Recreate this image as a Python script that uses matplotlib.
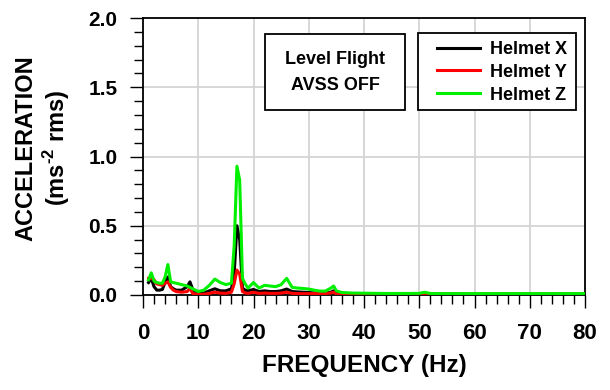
import matplotlib
matplotlib.use('Agg')
import matplotlib.pyplot as plt
from matplotlib.ticker import MultipleLocator
from matplotlib.patches import Rectangle

plt.rcParams['font.family'] = ['Liberation Sans', 'DejaVu Sans']
plt.rcParams['font.weight'] = 'bold'
plt.rcParams['mathtext.fontset'] = 'custom'
plt.rcParams['mathtext.rm'] = 'Liberation Sans:bold'
plt.rcParams['mathtext.bf'] = 'Liberation Sans:bold'

# 频率 (Hz)
freq = [1, 1.5, 2, 2.5, 3, 3.5, 4, 4.5, 5, 5.5, 6, 7, 8, 8.5, 9, 10, 11, 12, 13, 14,
        15, 16, 16.5, 17, 17.5, 18, 18.5, 19, 20, 21, 22, 23, 24, 25, 26, 27, 28, 29,
        30, 31, 32, 33, 34, 34.5, 35, 36, 38, 40, 42, 44, 46, 48, 50, 51, 52, 54, 56,
        58, 60, 62, 64, 66, 68, 70, 72, 74, 76, 78, 80]

helmet_x = [0.09, 0.12, 0.06, 0.035, 0.035, 0.04, 0.09, 0.13, 0.06, 0.045, 0.035, 0.035, 0.06, 0.095, 0.04, 0.008, 0.014, 0.03, 0.045, 0.03,
            0.03, 0.045, 0.15, 0.50, 0.40, 0.05, 0.035, 0.03, 0.04, 0.025, 0.03, 0.025, 0.025, 0.03, 0.043, 0.025, 0.022, 0.02,
            0.018, 0.015, 0.012, 0.012, 0.02, 0.03, 0.012, 0.008, 0.006, 0.006, 0.006, 0.005, 0.005, 0.005, 0.005, 0.007, 0.005, 0.005, 0.005,
            0.005, 0.005, 0.005, 0.005, 0.005, 0.005, 0.005, 0.005, 0.005, 0.005, 0.005, 0.005]

helmet_y = [0.12, 0.12, 0.11, 0.08, 0.075, 0.07, 0.085, 0.095, 0.055, 0.035, 0.025, 0.02, 0.025, 0.048, 0.01, 0.004, 0.005, 0.012, 0.02, 0.014,
            0.012, 0.02, 0.08, 0.18, 0.15, 0.025, 0.015, 0.012, 0.02, 0.012, 0.014, 0.012, 0.012, 0.014, 0.02, 0.012, 0.01, 0.01,
            0.01, 0.01, 0.01, 0.01, 0.015, 0.02, 0.008, 0.005, 0.005, 0.005, 0.005, 0.005, 0.005, 0.005, 0.005, 0.006, 0.005, 0.005, 0.005,
            0.005, 0.005, 0.005, 0.005, 0.005, 0.005, 0.005, 0.005, 0.005, 0.005, 0.005, 0.005]

helmet_z = [0.11, 0.16, 0.10, 0.09, 0.085, 0.085, 0.13, 0.22, 0.095, 0.09, 0.085, 0.075, 0.065, 0.055, 0.045, 0.025, 0.035, 0.07, 0.115, 0.09,
            0.075, 0.085, 0.35, 0.93, 0.83, 0.12, 0.08, 0.05, 0.09, 0.05, 0.07, 0.065, 0.06, 0.075, 0.12, 0.055, 0.05, 0.047,
            0.043, 0.035, 0.028, 0.028, 0.05, 0.065, 0.03, 0.018, 0.014, 0.013, 0.012, 0.011, 0.011, 0.011, 0.012, 0.02, 0.011, 0.01, 0.01,
            0.01, 0.01, 0.01, 0.01, 0.01, 0.01, 0.01, 0.01, 0.01, 0.01, 0.01, 0.01]

series = [('Helmet X', helmet_x, 'black'),
          ('Helmet Y', helmet_y, '#ff0000'),
          ('Helmet Z', helmet_z, '#00f000')]

W, H = 610, 390
fig = plt.figure(figsize=(W / 100, H / 100), dpi=100)
# 坐标区: 像素 x 143-585, y 18-295
ax = fig.add_axes([143 / W, 1 - 295 / H, 442 / W, 277 / H])

for name, vals, col in series:
    ax.plot(freq, vals, color=col, lw=2.2, label=name, zorder=3)

ax.set_xlim(0, 80)
ax.set_ylim(0, 2.0)
ax.xaxis.set_major_locator(MultipleLocator(10))
ax.xaxis.set_minor_locator(MultipleLocator(2))
ax.yaxis.set_minor_locator(MultipleLocator(0.1))
ax.set_yticks([0, 0.5, 1.0, 1.5, 2.0])
ax.set_yticklabels(['0.0', '0.5', '1.0', '1.5', '2.0'])

ax.grid(True, which='major', color='#d4d4d4', lw=1.3, zorder=0)
ax.tick_params(which='major', direction='out', length=9.5, width=1)
ax.tick_params(which='minor', direction='out', length=6.5, width=1)
ax.tick_params(axis='x', which='major', labelsize=16, pad=11)
ax.tick_params(axis='y', which='major', labelsize=15, pad=9)
for lbl in ax.get_xticklabels() + ax.get_yticklabels():
    lbl.set_fontweight('bold')
for s in ax.spines.values():
    s.set_linewidth(1.3)

ax.set_xlabel('FREQUENCY (Hz)', fontsize=17.5, fontweight='bold', labelpad=7)

# y 轴标题 (两行)
fig.text(26 / W, 1 - 148 / H, 'ACCELERATION', rotation=90, ha='center', va='center',
         fontsize=17, fontweight='bold')
fig.text(57 / W, 1 - 148 / H, r'(ms$^{\text{-2}}$ rms)', rotation=90, ha='center', va='center',
         fontsize=17, fontweight='bold')

# 文字框
ax.add_patch(Rectangle(((265 - 143) / 442, (295 - 110) / 277), 140 / 442, 76 / 277,
                       transform=ax.transAxes, fc='white', ec='black', lw=1.3, zorder=5))
fig.text(335 / W, 1 - 59 / H, 'Level Flight', ha='center', va='center', fontsize=13, fontweight='bold', zorder=6)
fig.text(335 / W, 1 - 85 / H, 'AVSS OFF', ha='center', va='center', fontsize=13, fontweight='bold', zorder=6)

# 图例框
ax.add_patch(Rectangle(((418 - 143) / 442, (295 - 110) / 277), 158 / 442, 77 / 277,
                       transform=ax.transAxes, fc='white', ec='black', lw=1.3, zorder=5))
leg = ax.legend(loc='upper left', bbox_to_anchor=((437 - 143) / 442, (295 - 41) / 277), fontsize=13,
                frameon=False, handlelength=2.4, labelspacing=0.32, borderpad=0,
                handletextpad=0.55, borderaxespad=0)
leg.set_zorder(6)
for t in leg.get_texts():
    t.set_fontweight('bold')

fig.savefig('out.png', dpi=100)
